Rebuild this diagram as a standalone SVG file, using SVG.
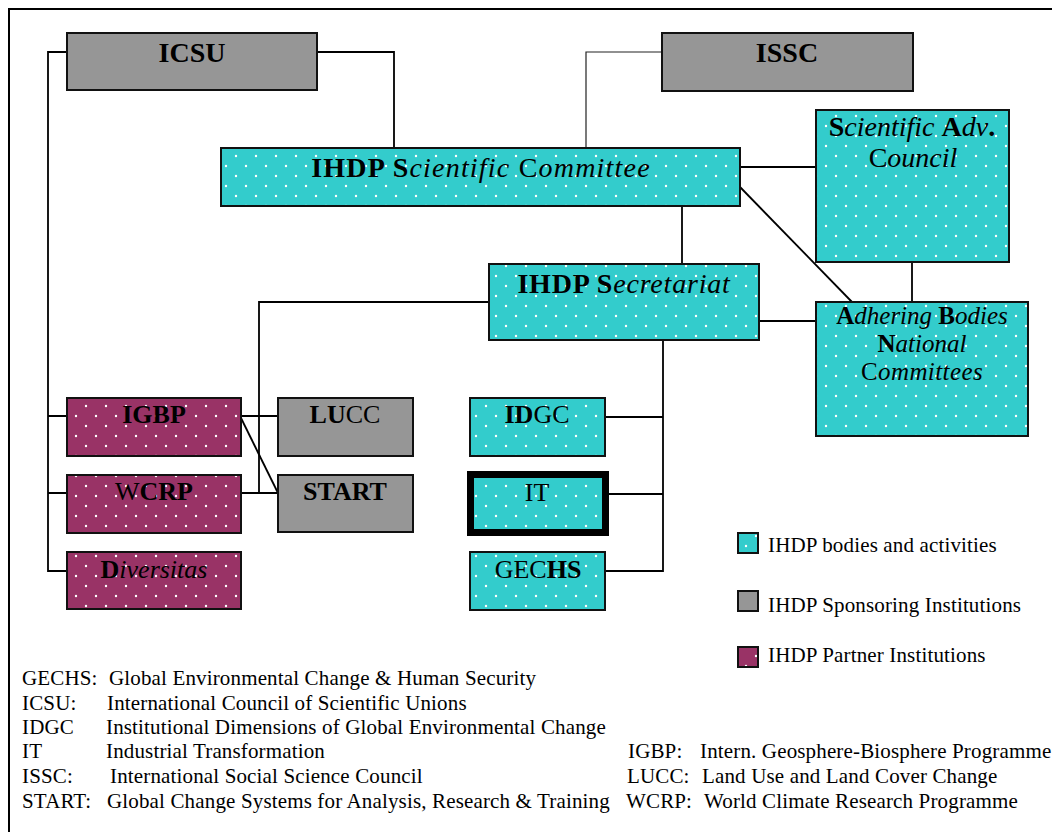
<svg xmlns="http://www.w3.org/2000/svg" width="1052" height="832" viewBox="0 0 1052 832">
<style>
  text { font-family: "Liberation Serif", "Times New Roman", serif; fill: #000; }
  .box { stroke: #111; stroke-width: 2; }
  .cyan { fill: url(#cyanDots); }
  .gray { fill: #969696; }
  .purple { fill: url(#purpleDots); }
  .lbl { font-size: 26px; text-anchor: middle; }
  .big { font-size: 28px; text-anchor: middle; }
  .b { font-weight: bold; }
  .i { font-style: italic; }
  .conn { fill: none; stroke: #000; stroke-width: 1.8; }
  .thin { stroke-width: 1.2; stroke: #222; }
  .note { font-size: 21px; letter-spacing: 0.15px; }
</style>
<defs>
  <pattern id="cyanDots" width="20" height="20" patternUnits="userSpaceOnUse">
    <rect width="20" height="20" fill="#33CCCC"/>
    <circle cx="6" cy="6" r="1.2" fill="#fff"/>
    <circle cx="16" cy="16" r="1.2" fill="#fff"/>
  </pattern>
  <pattern id="purpleDots" width="20" height="20" patternUnits="userSpaceOnUse">
    <rect width="20" height="20" fill="#993366"/>
    <circle cx="6" cy="6" r="1.2" fill="#fff"/>
    <circle cx="16" cy="16" r="1.2" fill="#fff"/>
  </pattern>
</defs>
<rect width="1052" height="832" fill="#fff"/>
<path d="M1052,9 H9 V832" fill="none" stroke="#000" stroke-width="2"/>

<g id="connectors">
  <path class="conn" d="M67,52 H48 V571 H67 M48,416 H67 M48,493 H67"/>
  <path class="conn" d="M317,52 H394 V148"/>
  <path class="conn thin" d="M662,52 H586 V148"/>
  <path class="conn" d="M740,167 H816"/>
  <path class="conn" d="M740,187 L852,302"/>
  <path class="conn" d="M682,206 V264"/>
  <path class="conn" d="M912,262 V302"/>
  <path class="conn" d="M759,321 H816"/>
  <path class="conn" d="M489,302 H259 V493"/>
  <path class="conn" d="M241,416 H278"/>
  <path class="conn" d="M241,493 H278"/>
  <path class="conn" d="M241,418 L278,493"/>
  <path class="conn" d="M663,340 V571 H605 M663,417 H605 M663,494 H609"/>
</g>

<g id="icsu">
  <rect class="box gray" x="67" y="33" width="250" height="57"/>
  <text class="big b" x="192" y="62">ICSU</text>
</g>
<g id="issc">
  <rect class="box gray" x="662" y="33" width="251" height="58"/>
  <text class="big b" x="787" y="62">ISSC</text>
</g>
<g id="sci-committee">
  <rect class="box cyan" x="221" y="148" width="519" height="58"/>
  <text class="big" x="481" y="177" letter-spacing="1.2"><tspan class="b">IHDP S</tspan><tspan class="i">cientific </tspan><tspan>C</tspan><tspan class="i">ommittee</tspan></text>
</g>
<g id="sci-adv-council">
  <rect class="box cyan" x="816" y="110" width="193" height="152"/>
  <text class="big" x="912" y="136"><tspan class="b">S</tspan><tspan class="i">cientific </tspan><tspan class="b">A</tspan><tspan class="i">dv</tspan><tspan class="b">.</tspan></text>
  <text class="big" x="913" y="167"><tspan>C</tspan><tspan class="i">ouncil</tspan></text>
</g>
<g id="secretariat">
  <rect class="box cyan" x="489" y="264" width="270" height="76"/>
  <text class="big" x="624" y="293" letter-spacing="0.8"><tspan class="b">IHDP S</tspan><tspan class="i">ecretariat</tspan></text>
</g>
<g id="adhering-bodies">
  <rect class="box cyan" x="816" y="302" width="212" height="134"/>
  <text class="lbl" x="922" y="324" style="font-size:25px"><tspan class="b">A</tspan><tspan class="i">dhering </tspan><tspan class="b">B</tspan><tspan class="i">odies</tspan></text>
  <text class="lbl" x="922" y="352" style="font-size:25px"><tspan class="b">N</tspan><tspan class="i">ational</tspan></text>
  <text class="lbl" x="922" y="380" style="font-size:25px" letter-spacing="0.4"><tspan>C</tspan><tspan class="i">ommittees</tspan></text>
</g>
<g id="igbp">
  <rect class="box purple" x="67" y="398" width="174" height="58"/>
  <text class="lbl b" x="154" y="423">IGBP</text>
</g>
<g id="wcrp">
  <rect class="box purple" x="67" y="475" width="174" height="58"/>
  <text class="lbl" x="154" y="500"><tspan>W</tspan><tspan class="b">CRP</tspan></text>
</g>
<g id="diversitas">
  <rect class="box purple" x="67" y="552" width="174" height="57"/>
  <text class="lbl" x="154" y="578"><tspan class="b">D</tspan><tspan class="i">iversitas</tspan></text>
</g>
<g id="lucc">
  <rect class="box gray" x="278" y="398" width="135" height="58"/>
  <text class="lbl" x="345" y="423"><tspan class="b">LU</tspan><tspan>CC</tspan></text>
</g>
<g id="start">
  <rect class="box gray" x="278" y="475" width="135" height="57"/>
  <text class="lbl b" x="345" y="500">START</text>
</g>
<g id="idgc">
  <rect class="box cyan" x="470" y="398" width="135" height="58"/>
  <text class="lbl" x="537" y="423"><tspan class="b">ID</tspan><tspan>GC</tspan></text>
</g>
<g id="it">
  <rect class="cyan" x="470.5" y="474.5" width="135" height="58" stroke="#000" stroke-width="7"/>
  <text class="lbl" x="537" y="501">IT</text>
</g>
<g id="gechs">
  <rect class="box cyan" x="470" y="552" width="135" height="58"/>
  <text class="lbl" x="538" y="578"><tspan>GEC</tspan><tspan class="b">HS</tspan></text>
</g>

<g id="legend">
  <rect class="box cyan" x="738" y="533" width="20" height="20"/>
  <text class="note" x="768" y="552">IHDP bodies and activities</text>
  <rect class="box gray" x="738" y="591" width="20" height="20"/>
  <text class="note" x="768" y="612">IHDP Sponsoring Institutions</text>
  <rect class="box purple" x="738" y="647" width="20" height="20"/>
  <text class="note" x="768" y="662">IHDP Partner Institutions</text>
</g>

<g id="abbreviations">
  <text class="note" x="22" y="685">GECHS:</text>
  <text class="note" x="109" y="685">Global Environmental Change &amp; Human Security</text>
  <text class="note" x="22" y="710">ICSU:</text>
  <text class="note" x="107" y="710">International Council of Scientific Unions</text>
  <text class="note" x="22" y="734">IDGC</text>
  <text class="note" x="106" y="734">Institutional Dimensions of Global Environmental Change</text>
  <text class="note" x="22" y="758">IT</text>
  <text class="note" x="106" y="758">Industrial Transformation</text>
  <text class="note" x="22" y="783">ISSC:</text>
  <text class="note" x="110" y="783">International Social Science Council</text>
  <text class="note" x="22" y="808">START:</text>
  <text class="note" x="107" y="808">Global Change Systems for Analysis, Research &amp; Training</text>
  <text class="note" x="628" y="758">IGBP:</text>
  <text class="note" x="700" y="758">Intern. Geosphere-Biosphere Programme</text>
  <text class="note" x="627" y="783">LUCC:</text>
  <text class="note" x="702" y="783">Land Use and Land Cover Change</text>
  <text class="note" x="626" y="808">WCRP:</text>
  <text class="note" x="704" y="808">World Climate Research Programme</text>
</g>
</svg>
